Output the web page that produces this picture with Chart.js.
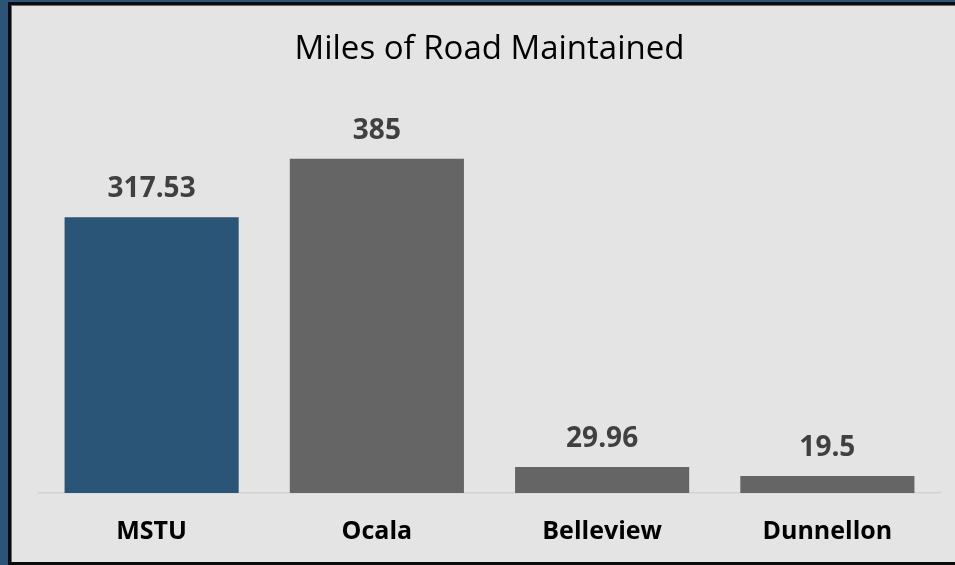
<!DOCTYPE html>
<html>
<head>
<meta charset="utf-8">
<script src="https://cdn.jsdelivr.net/npm/chart.js@4.4.0/dist/chart.umd.min.js"></script>
<style>
  html, body { margin: 0; padding: 0; }
  body { width: 955px; height: 565px; background: #2b5477; overflow: hidden; position: relative; }
  #frame {
    position: absolute; left: 8px; top: 2px; width: 960px; height: 557px;
    border: 3px solid #0b0b0b; box-shadow: inset 1px 1px 0 #6a6a6a;
    background: #e4e4e4;
  }
  #wrap { position: absolute; left: 1px; top: 1px; width: 943px; height: 556px; }
  #myChart { display: block; width: 943px; height: 556px; }
</style>
</head>
<body>
<div id="frame"><div id="wrap"><canvas id="myChart" width="943" height="556"></canvas></div></div>
<script>
const districts = ["MSTU", "Ocala", "Belleview", "Dunnellon"];
const miles = [317.53, 385, 29.96, 19.5];
const barColors = ["#2b5577", "#656565", "#656565", "#656565"];

// prints each bar's value above it
const valueLabels = {
  id: "valueLabels",
  afterDatasetsDraw(chart) {
    const ctx = chart.ctx;
    const meta = chart.getDatasetMeta(0);
    ctx.save();
    ctx.font = "bold 28px 'Open Sans'";
    ctx.fillStyle = "#404040";
    ctx.textAlign = "center";
    ctx.textBaseline = "middle";
    meta.data.forEach((bar, i) => {
      ctx.fillText(String(miles[i]), bar.x, bar.y - 28);
    });
    ctx.restore();
  }
};

const ctx = document.getElementById("myChart");
const chart = new Chart(ctx, {
  type: "bar",
  data: {
    labels: districts,
    datasets: [{
      label: "Miles",
      data: miles,
      backgroundColor: barColors,
      categoryPercentage: 1,
      barPercentage: 0.773
    }]
  },
  options: {
    responsive: false,
    animation: false,
    devicePixelRatio: 1,
    layout: { padding: { left: 27, right: 15, top: 0, bottom: 0 } },
    plugins: {
      legend: { display: false },
      tooltip: { enabled: false },
      title: {
        display: true,
        text: "Miles of Road Maintained",
        color: "#000",
        font: { family: "'Open Sans'", size: 33, weight: "normal", lineHeight: 1.2 },
        padding: { top: 24, bottom: 76 }
      }
    },
    scales: {
      x: {
        grid: { display: false, drawTicks: false },
        border: { display: true, color: "#d2d2d2", width: 1.5 },
        ticks: {
          color: "#000",
          padding: 24,
          font: { family: "'Open Sans'", size: 25, weight: "bold" }
        },
        afterFit(scale) { scale.height = 69; }
      },
      y: {
        display: false,
        min: 0,
        max: 400
      }
    }
  },
  plugins: [valueLabels]
});
</script>
</body>
</html>
